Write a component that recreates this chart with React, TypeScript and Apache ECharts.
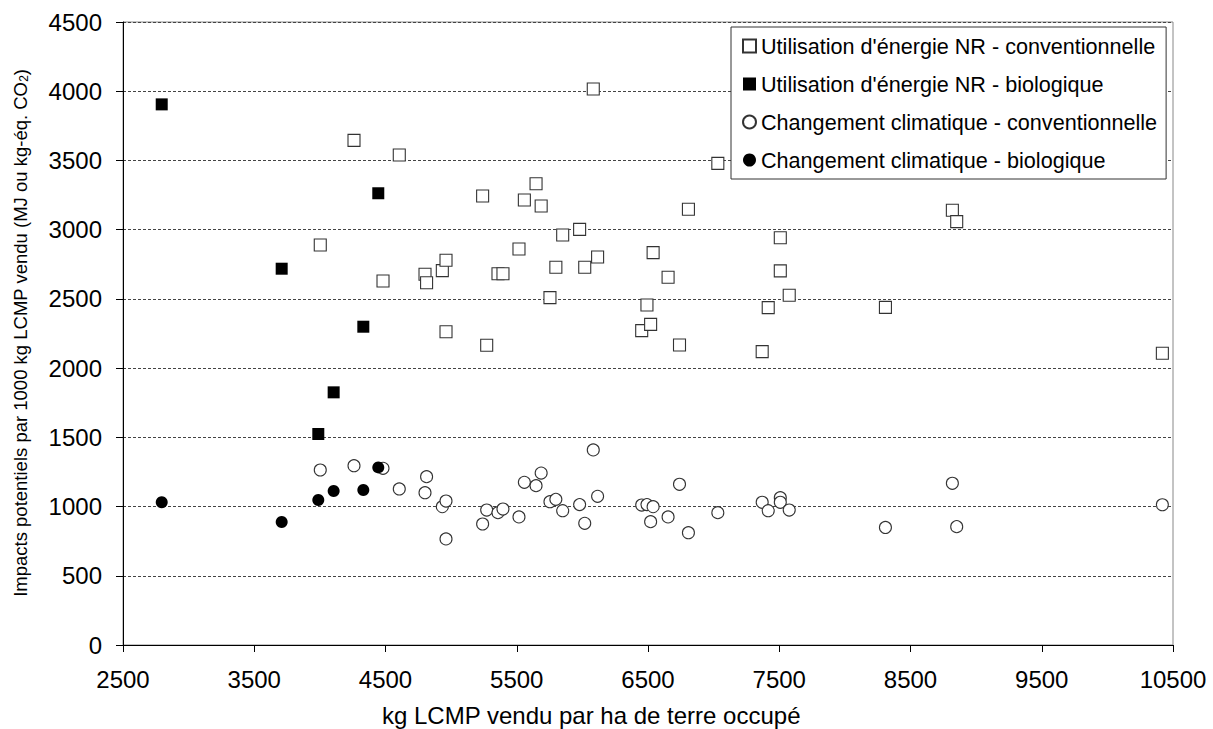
import React, { useEffect, useRef } from "react";
import * as echarts from "echarts";

// Exploitations conventionnelles (x partagé par les deux indicateurs)
const convX = [4003, 4260, 4481, 4605, 4801, 4813, 4933, 4961, 4961, 5240, 5271, 5357, 5395, 5517, 5558, 5647, 5686, 5753, 5798, 5850, 5979, 6018, 6083, 6116, 6452, 6492, 6520, 6539, 6653, 6740, 6808, 7032, 7370, 7416, 7508, 7508, 7576, 8309, 8819, 8852, 10419];
const convEnergy = [2889, 3645, 2629, 3539, 2678, 2617, 2704, 2779, 2263, 3243, 2165, 2682, 2682, 2860, 3214, 3332, 3171, 2509, 2728, 2962, 3002, 2728, 4016, 2803, 2271, 2456, 2316, 2834, 2656, 2167, 3147, 3479, 2119, 2437, 2942, 2702, 2526, 2439, 3140, 3058, 2107];
const convClimate = [1264, 1295, 1276, 1127, 1100, 1216, 999, 1040, 766, 874, 975, 956, 982, 925, 1175, 1151, 1242, 1035, 1052, 970, 1014, 879, 1409, 1074, 1011, 1014, 891, 999, 925, 1161, 811, 956, 1031, 970, 1064, 1031, 975, 849, 1168, 855, 1013];

// Exploitations biologiques
const bioX = [2795, 3709, 3988, 4105, 4331, 4445];
const bioEnergy = [3905, 2718, 1524, 1825, 2299, 3263];
const bioClimate = [1031, 888, 1047, 1112, 1120, 1283];

const seriesNames = [
  "Utilisation d'énergie NR - conventionnelle",
  "Utilisation d'énergie NR - biologique",
  "Changement climatique - conventionnelle",
  "Changement climatique - biologique",
];

const xTitle = "kg LCMP vendu par ha de terre occupé";
const yTitleMain = "Impacts potentiels par 1000 kg LCMP vendu (MJ ou kg-éq. CO";

const FONT = "'Liberation Sans', Arial, sans-serif";

const pairs = (xs: number[], ys: number[]) => xs.map((x, i) => [x, ys[i]]);

export default function App() {
  const ref = useRef<HTMLDivElement>(null);
  useEffect(() => {
    if (!ref.current) return;
    const chart = echarts.init(ref.current, undefined, { renderer: "svg" });
    const openStyle = { color: "#ffffff", borderColor: "#333333", borderWidth: 1.1, opacity: 1 };
    const fillStyle = { color: "#000000", borderColor: "#000000", borderWidth: 0, opacity: 1 };
    const fmt = (v: number) => String(v);
    chart.setOption({
      animation: false,
      backgroundColor: "#ffffff",
      textStyle: { fontFamily: FONT },
      grid: {
        left: 123,
        right: 40,
        top: 22,
        bottom: 84,
        show: true,
        borderColor: "#888888",
        borderWidth: 1,
      },
      xAxis: {
        type: "value",
        min: 2500,
        max: 10500,
        interval: 1000,
        axisLine: { show: true, onZero: false, lineStyle: { color: "#000", width: 1 } },
        axisTick: { show: true, length: 7, lineStyle: { color: "#000" } },
        axisLabel: { fontSize: 24, color: "#000", margin: 22, fontFamily: FONT, formatter: fmt },
        splitLine: { show: false },
      },
      yAxis: {
        type: "value",
        min: 0,
        max: 4500,
        interval: 500,
        axisLine: { show: true, lineStyle: { color: "#000", width: 1 } },
        axisTick: { show: true, length: 7, lineStyle: { color: "#000" } },
        axisLabel: { fontSize: 24, color: "#000", margin: 21, fontFamily: FONT, formatter: fmt },
        splitLine: { show: true, lineStyle: { color: "#444", type: [3, 2], width: 1 } },
      },
      legend: {
        orient: "vertical",
        left: 731,
        top: 27,
        padding: [8, 9, 8, 11],
        itemGap: 16,
        itemWidth: 13,
        itemHeight: 13,
        backgroundColor: "#ffffff",
        borderColor: "#333333",
        borderWidth: 1,
        borderRadius: 0,
        textStyle: { fontSize: 21.6, lineHeight: 22, color: "#000", fontFamily: FONT },
        data: seriesNames,
      },
      graphic: [
        {
          type: "text",
          left: 382,
          top: 703,
          style: { text: xTitle, fontSize: 24, fill: "#000", fontFamily: FONT },
        },
        {
          type: "text",
          x: 20,
          y: 333,
          rotation: Math.PI / 2,
          style: {
            text: `{a|${yTitleMain}}{b|2}{a|)}`,
            align: "center",
            verticalAlign: "middle",
            fill: "#000",
            rich: {
              a: { fontSize: 18.5, fontFamily: FONT, fill: "#000" },
              b: { fontSize: 12, fontFamily: FONT, fill: "#000", padding: [8, 0, 0, 0] },
            },
          },
        },
      ],
      series: [
        {
          name: seriesNames[0],
          type: "scatter",
          symbol: "rect",
          symbolSize: 12,
          itemStyle: openStyle,
          data: pairs(convX, convEnergy),
          z: 2,
        },
        {
          name: seriesNames[1],
          type: "scatter",
          symbol: "rect",
          symbolSize: 12,
          itemStyle: fillStyle,
          data: pairs(bioX, bioEnergy),
          z: 3,
        },
        {
          name: seriesNames[2],
          type: "scatter",
          symbol: "circle",
          symbolSize: 12,
          itemStyle: openStyle,
          data: pairs(convX, convClimate),
          z: 2,
        },
        {
          name: seriesNames[3],
          type: "scatter",
          symbol: "circle",
          symbolSize: 12,
          itemStyle: fillStyle,
          data: pairs(bioX, bioClimate),
          z: 3,
        },
      ],
    });
    return () => chart.dispose();
  }, []);
  return (
    <div
      ref={ref}
      style={{ position: "fixed", left: 0, top: 0, width: 1213, height: 729, background: "#fff" }}
    />
  );
}
